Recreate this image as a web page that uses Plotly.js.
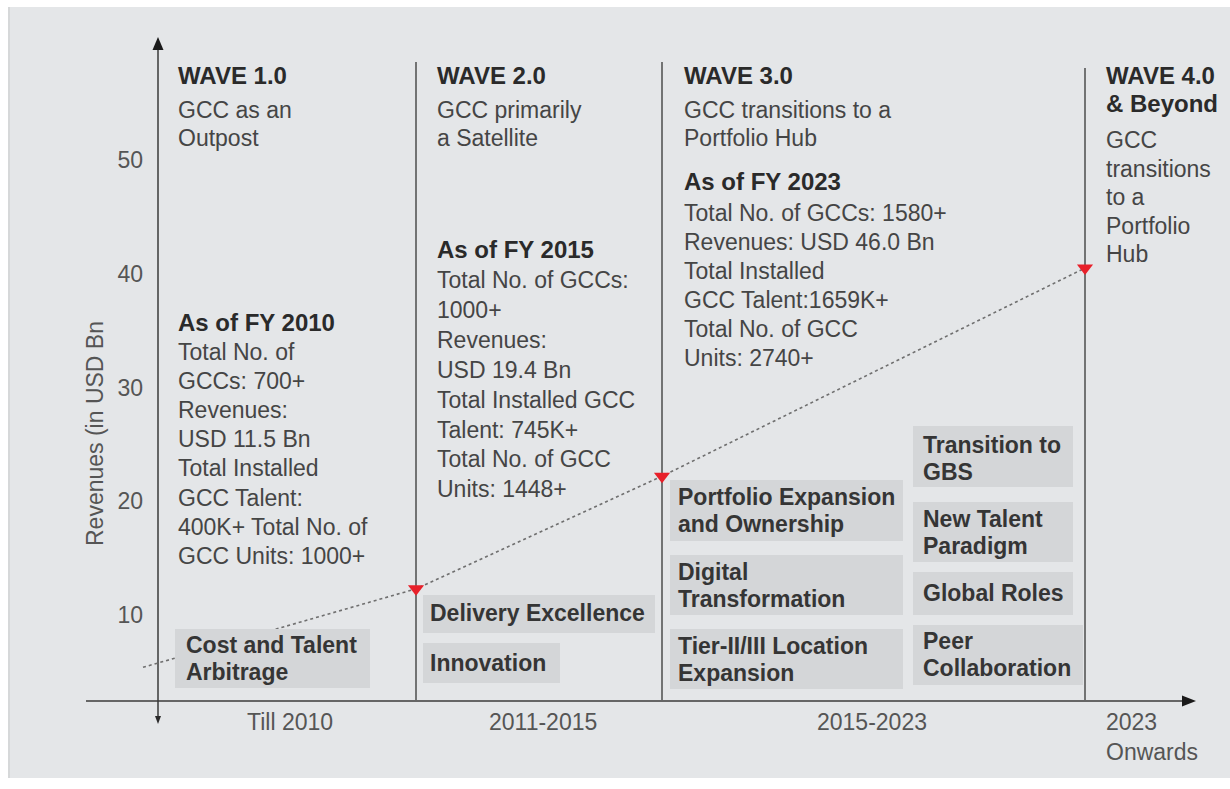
<!DOCTYPE html>
<html>
<head>
<meta charset="utf-8">
<script src="https://cdn.plot.ly/plotly-3.0.1.min.js"></script>
<style>html,body{margin:0;padding:0;background:#fff;}#chart{width:1230px;height:789px;}</style>
</head>
<body>
<div id="chart"></div>
<script>
// ---------------- DATA ----------------
const periodLabels = ['Till 2010', '2011-2015', '2015-2023', '2023', 'Onwards'];
const waveBoundaries = [0, 2.58, 5.04, 9.27];          // timeline position of each wave start
const trendX = [-0.15, 2.58, 5.04, 9.27];              // revenue trend (dotted line)
const trendY = [5.4, 12.3, 22.2, 40.5];
const milestoneX = [2.58, 5.04, 9.27];                 // red markers
const milestoneY = [12.3, 22.2, 40.5];
const yTicks = [10, 20, 30, 40, 50];
const yTitle = 'Revenues (in USD Bn';

const waveTitles = [['WAVE 1.0'], ['WAVE 2.0'], ['WAVE 3.0'], ['WAVE 4.0', '& Beyond']];
const waveSubtitles = [
  ['GCC as an', 'Outpost'],
  ['GCC primarily', 'a Satellite'],
  ['GCC transitions to a', 'Portfolio Hub'],
  ['GCC', 'transitions', 'to a', 'Portfolio', 'Hub']
];
const snapshotTitles = ['As of FY 2010', 'As of FY 2015', 'As of FY 2023'];
const snapshotLines = [
  ['Total No. of', 'GCCs: 700+', 'Revenues:', 'USD 11.5 Bn', 'Total Installed', 'GCC Talent:', '400K+ Total No. of', 'GCC Units: 1000+'],
  ['Total No. of GCCs:', '1000+', 'Revenues:', 'USD 19.4 Bn', 'Total Installed GCC', 'Talent: 745K+', 'Total No. of GCC', 'Units: 1448+'],
  ['Total No. of GCCs: 1580+', 'Revenues: USD 46.0 Bn', 'Total Installed', 'GCC Talent:1659K+', 'Total No. of GCC', 'Units: 2740+']
];
const themes = [
  ['Cost and Talent', 'Arbitrage'],
  ['Delivery Excellence'],
  ['Innovation'],
  ['Portfolio Expansion', 'and Ownership'],
  ['Digital', 'Transformation'],
  ['Tier-II/III Location', 'Expansion'],
  ['Transition to', 'GBS'],
  ['New Talent', 'Paradigm'],
  ['Global Roles'],
  ['Peer', 'Collaboration']
];

// ---------------- LAYOUT HELPERS ----------------
const W = 1230, H = 789;
const px = x => x / W;
const py = y => 1 - y / H;
const FAMILY = 'Liberation Sans, Arial, Helvetica, sans-serif';
const fBody = {family: FAMILY, size: 23, color: '#454545'};
const fHead = {family: FAMILY, size: 24, color: '#2a2a2a', weight: 'bold'};
const fBox = {family: FAMILY, size: 23, color: '#353535', weight: 'bold'};
const fAxis = {family: FAMILY, size: 23, color: '#555555'};

const annotations = [];
const shapes = [];

function addLines(x, y0, step, lines, font) {
  lines.forEach((t, i) => annotations.push({
    xref: 'paper', yref: 'paper', x: px(x), y: py(y0 + i * step),
    text: t, showarrow: false, xanchor: 'left', yanchor: 'middle',
    font: font, borderpad: 0
  }));
}
function pathPx(points) {
  return 'M' + points.map(p => px(p[0]) + ',' + py(p[1])).join('L') + 'Z';
}

// background panel
shapes.push({type: 'rect', xref: 'paper', yref: 'paper', x0: px(10), x1: px(1230), y0: py(778), y1: py(7),
  fillcolor: '#e4e6e8', line: {width: 0}, layer: 'below'});
shapes.push({type: 'line', xref: 'paper', yref: 'paper', x0: px(9), x1: px(9), y0: py(778), y1: py(7),
  line: {color: '#c9cbcd', width: 1.5}, layer: 'below'});

// wave dividers (except the y axis itself)
const dividerTop = [62, 62, 68];
waveBoundaries.slice(1).forEach((b, i) => shapes.push({
  type: 'line', xref: 'x', yref: 'paper', x0: b, x1: b, y0: py(701), y1: py(dividerTop[i]),
  line: {color: '#4d4d4d', width: 1.5}, layer: 'below'
}));

// axes lines + arrowheads
shapes.push({type: 'line', xref: 'paper', yref: 'paper', x0: px(86), x1: px(1185), y0: py(701), y1: py(701),
  line: {color: '#666666', width: 2}, layer: 'below'});
shapes.push({type: 'line', xref: 'paper', yref: 'paper', x0: px(158), x1: px(158), y0: py(719), y1: py(46),
  line: {color: '#3a3a3a', width: 1.5}, layer: 'below'});
shapes.push({type: 'path', xref: 'paper', yref: 'paper', path: pathPx([[158, 37], [152.5, 50], [163.5, 50]]),
  fillcolor: '#1a1a1a', line: {width: 0}, layer: 'below'});
shapes.push({type: 'path', xref: 'paper', yref: 'paper', path: pathPx([[1196, 701], [1182, 695.5], [1182, 706.5]]),
  fillcolor: '#1a1a1a', line: {width: 0}, layer: 'below'});
shapes.push({type: 'path', xref: 'paper', yref: 'paper', path: pathPx([[158, 724], [155, 716], [161, 716]]),
  fillcolor: '#2a2a2a', line: {width: 0}, layer: 'below'});

// theme boxes
const boxGeom = [
  [175, 370, 629, 688, 185, 645],
  [423, 655, 595, 633, 429, 613],
  [423, 560, 643, 683, 429, 663],
  [670, 903, 480, 541, 677, 497],
  [670, 903, 555, 615, 677, 572],
  [670, 903, 629, 689, 677, 646],
  [913, 1073, 426, 487, 922, 445],
  [913, 1073, 502, 562, 922, 519],
  [913, 1073, 572, 615, 922, 593],
  [913, 1083, 625, 685, 922, 641]
];
themes.forEach((lines, i) => {
  const g = boxGeom[i];
  shapes.push({type: 'rect', xref: 'paper', yref: 'paper', x0: px(g[0]), x1: px(g[1]), y0: py(g[3]), y1: py(g[2]),
    fillcolor: '#d4d6d8', line: {width: 0}, layer: 'above'});
  addLines(g[4], g[5], 26.5, lines, fBox);
});

// wave texts
const colX = [177, 436, 683, 1105];
waveTitles.forEach((t, i) => addLines(colX[i], 76, 28, t, fHead));
addLines(colX[0], 110, 28, waveSubtitles[0], fBody);
addLines(colX[1], 110, 28, waveSubtitles[1], fBody);
addLines(colX[2], 110, 28, waveSubtitles[2], fBody);
addLines(colX[3], 140, 28.5, waveSubtitles[3], fBody);

const snapTitleY = [322, 250, 181];
const snapBodyY = [352, 280, 213];
const snapStep = [29.1, 29.9, 29];
snapshotTitles.forEach((t, i) => {
  addLines(colX[i], snapTitleY[i], 0, [t], fHead);
  addLines(colX[i], snapBodyY[i], snapStep[i], snapshotLines[i], fBody);
});

// period labels
const periodPos = [[290, 722, 'center'], [543, 722, 'center'], [872, 722, 'center'], [1105, 722, 'left'], [1105, 752, 'left']];
periodLabels.forEach((t, i) => annotations.push({
  xref: 'paper', yref: 'paper', x: px(periodPos[i][0]), y: py(periodPos[i][1]), text: t,
  showarrow: false, xanchor: periodPos[i][2], yanchor: 'middle', font: fAxis, borderpad: 0
}));

// y axis title
annotations.push({xref: 'paper', yref: 'paper', x: px(95), y: py(434), text: yTitle, textangle: -90,
  showarrow: false, xanchor: 'center', yanchor: 'middle', font: fAxis, borderpad: 0});

// ---------------- TRACES ----------------
const traces = [
  {x: trendX, y: trendY, type: 'scatter', mode: 'lines',
   line: {color: '#6f6f6f', width: 1.6, dash: 'dot'}, hoverinfo: 'skip', showlegend: false},
  {x: milestoneX, y: milestoneY, type: 'scatter', mode: 'markers',
   marker: {symbol: 'triangle-down', size: 14, color: '#e8202a'}, hoverinfo: 'skip', showlegend: false}
];

const layout = {
  width: W, height: H,
  margin: {l: 0, r: 0, t: 0, b: 0},
  paper_bgcolor: '#ffffff', plot_bgcolor: '#ffffff',
  showlegend: false,
  xaxis: {range: [-1.58, 10.72], visible: false, fixedrange: true},
  yaxis: {range: [-5.297, 64.066], tickvals: yTicks, anchor: 'free', position: px(158), side: 'left',
    showline: false, showgrid: false, zeroline: false, ticks: '', ticklabelstandoff: 15,
    tickfont: fAxis, automargin: false, fixedrange: true},
  shapes: shapes,
  annotations: annotations
};

Plotly.newPlot('chart', traces, layout, {displayModeBar: false, staticPlot: true});
</script>
</body>
</html>
